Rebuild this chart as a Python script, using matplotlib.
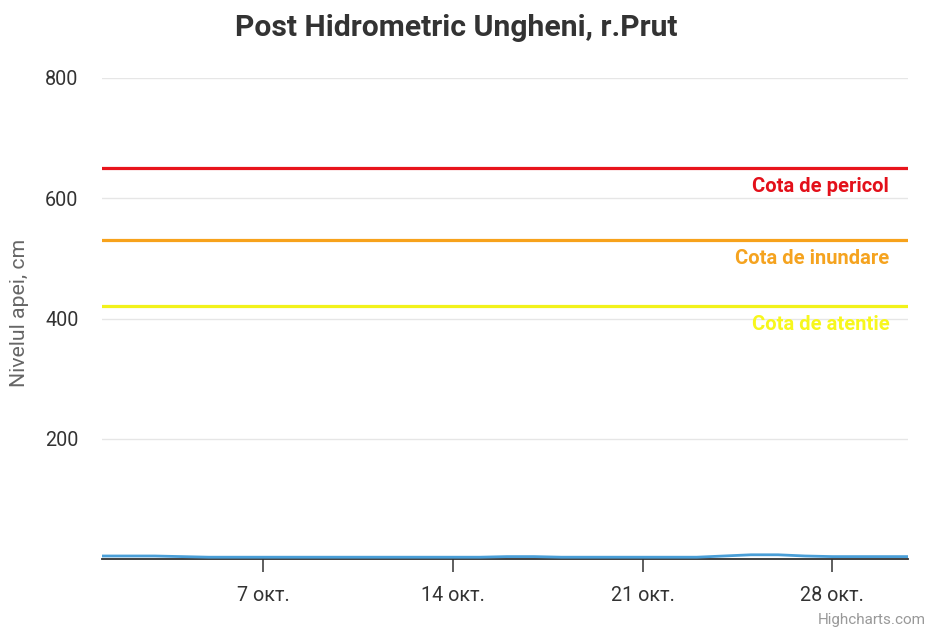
import matplotlib
matplotlib.use("Agg")
import matplotlib.pyplot as plt
import numpy as np
import pandas as pd

# ---- data ----
dates = pd.date_range("2023-10-01", "2023-10-31", freq="D")
levels = [5, 5, 5, 4, 3, 3, 3, 3, 3, 3, 3, 3, 3, 3, 3, 4, 4, 3, 3, 3,
          3, 3, 3, 5, 7, 7, 5, 4, 4, 4, 4]
threshold_names = ["Cota de pericol", "Cota de inundare", "Cota de atentie"]
threshold_values = [650, 530, 420]
threshold_colors = ["#e8141c", "#f7a21b", "#f2f21a"]
threshold_text_colors = ["#e3101a", "#f5a31f", "#f7f71c"]
tick_dates = ["2023-10-07", "2023-10-14", "2023-10-21", "2023-10-28"]
tick_labels = ["7 окт.", "14 окт.", "21 окт.", "28 окт."]
y_ticks = [200, 400, 600, 800]

plt.rcParams['font.family'] = ['Roboto', 'DejaVu Sans']

W, H = 926, 628
fig = plt.figure(figsize=(W / 100, H / 100), dpi=100)
ax = fig.add_axes([102 / W, 1 - 559 / H, (908 - 102) / W, (559 - 78) / H])

ax.plot(dates, levels, color="#4a9fd8", lw=2, zorder=3, solid_capstyle="butt")

for name, val, col, tcol in zip(threshold_names, threshold_values,
                                threshold_colors, threshold_text_colors):
    ax.axhline(val, color=col, lw=2.3, zorder=2)
    ax.annotate(name, xy=(1, val), xycoords=("axes fraction", "data"),
                xytext=(-13.5, -13), textcoords="offset points",
                ha="right", va="center", fontsize=14.5, fontweight="bold",
                color=tcol)

ax.set_ylim(0, 800)
ax.set_xlim(pd.Timestamp("2023-10-01 01:30"), pd.Timestamp("2023-10-30 19:00"))
ax.set_yticks(y_ticks)
ax.set_yticklabels([str(v) for v in y_ticks])
ax.set_xticks(pd.to_datetime(tick_dates))
ax.set_xticklabels(tick_labels)

ax.grid(axis="y", color="#e6e6e6", lw=1)
ax.set_axisbelow(True)
for s in ["top", "right", "left"]:
    ax.spines[s].set_visible(False)
ax.spines["bottom"].set_color("#333333")
ax.spines["bottom"].set_linewidth(1.3)
ax.tick_params(axis="y", length=0, pad=17, labelsize=14.2, labelcolor="#333333")
ax.tick_params(axis="x", length=9.5, width=1.1, color="#333333", pad=10,
               labelsize=14.2, labelcolor="#333333")

fig.text(20 / W, 1 - 313 / H, "Nivelul apei, cm", rotation=90, ha="center",
         va="center", fontsize=15.3, color="#666666")
fig.text(456 / W, 1 - 28 / H, "Post Hidrometric Ungheni, r.Prut", ha="center",
         va="center", fontsize=21.7, fontweight="bold", color="#333333")
fig.text(926 / W, 1 - 620 / H, "Highcharts.com", ha="right", va="center",
         fontsize=11, color="#999999")

fig.savefig("out.png", dpi=100, facecolor="white")
